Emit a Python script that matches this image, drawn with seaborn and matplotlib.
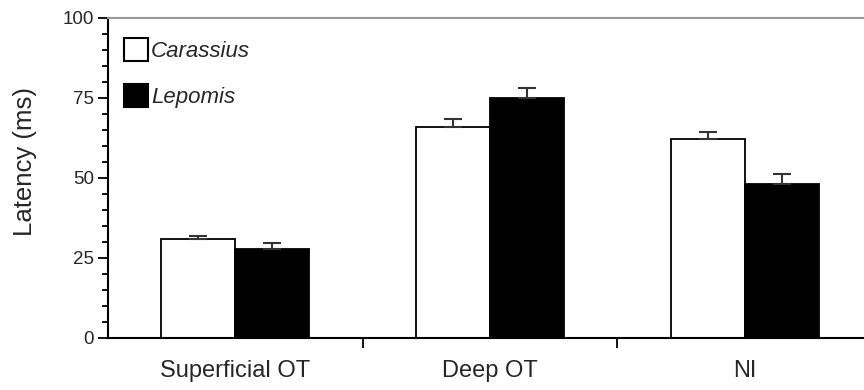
import numpy as np
import pandas as pd
import seaborn as sns
import matplotlib.pyplot as plt
from matplotlib.patches import Patch
from matplotlib.ticker import MultipleLocator

# values
regions = ["Superficial OT", "Deep OT", "NI"]
species = ["Carassius", "Lepomis"]
carassius_mean = [30.8, 66.0, 62.1]
carassius_err = [1.1, 2.4, 2.2]
lepomis_mean = [27.8, 75.1, 48.1]
lepomis_err = [1.8, 2.9, 3.1]

df = pd.DataFrame({
    "region": regions * 2,
    "species": [species[0]] * 3 + [species[1]] * 3,
    "latency": carassius_mean + lepomis_mean,
})
errors = {species[0]: carassius_err, species[1]: lepomis_err}

sns.set_style("ticks")
plt.rcParams["font.family"] = ["Liberation Sans", "DejaVu Sans"]

fig = plt.figure(figsize=(8.64, 3.9), dpi=100)
ax = fig.add_axes([108 / 864, 52 / 390, 764 / 864, 320 / 390])

sns.barplot(data=df, x="region", y="latency", hue="species",
            order=regions, hue_order=species,
            palette={"Carassius": "white", "Lepomis": "black"},
            edgecolor="black", linewidth=1.3, width=0.58,
            errorbar=None, legend=False, ax=ax)

# upper-only error bars on each bar
for cont, sp in zip(ax.containers, species):
    for bar, err in zip(cont.patches, errors[sp]):
        xc = bar.get_x() + bar.get_width() / 2
        h = bar.get_height()
        ax.errorbar(xc, h, yerr=[[0], [err]], fmt="none", ecolor="#333333",
                    elinewidth=1.5, capsize=6.5, capthick=1.5, zorder=1)

ax.set_xlim(-0.5, 2.5)
ax.set_ylim(0, 100)
ax.yaxis.set_major_locator(MultipleLocator(25))
ax.yaxis.set_minor_locator(MultipleLocator(5))
ax.set_xticks([0, 1, 2])
ax.set_xticklabels(regions, fontsize=17)
ax.set_xticks([0.5, 1.5], minor=True)
ax.tick_params(axis="x", which="major", length=0, pad=16)
ax.tick_params(axis="x", which="minor", length=7, width=1.3, color="black")
ax.tick_params(axis="y", which="major", length=7, width=1.3, labelsize=13.5,
               pad=3, color="black")
ax.tick_params(axis="y", which="minor", length=4, width=1.3, color="black")

ax.set_xlabel("")
ax.set_ylabel("Latency (ms)", fontsize=18.5)
ax.yaxis.set_label_coords(-0.093, 0.55)

for s in ["left", "bottom"]:
    ax.spines[s].set_linewidth(1.5)
    ax.spines[s].set_color("black")
ax.spines["top"].set_visible(True)
ax.spines["top"].set_color("#999999")
ax.spines["top"].set_linewidth(1.5)
ax.spines["right"].set_visible(False)

handles = [Patch(facecolor="white", edgecolor="black", linewidth=1.5),
           Patch(facecolor="black", edgecolor="black", linewidth=1.5)]
leg = ax.legend(handles, species, loc="upper left",
                bbox_to_anchor=(16 / 764, 1 - 20 / 320),
                frameon=False, handlelength=1.1, handleheight=1.2,
                handletextpad=0.12, labelspacing=1.0, borderpad=0, borderaxespad=0,
                prop={"style": "italic", "size": 16})

fig.savefig("out.png", dpi=100)
